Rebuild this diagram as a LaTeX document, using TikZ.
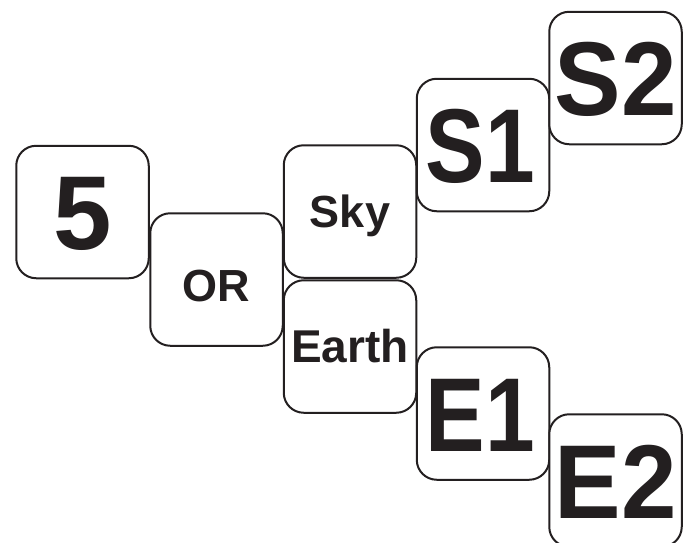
\documentclass[tikz,border=0pt]{standalone}
\usepackage{fontspec}
\setmainfont{Liberation Sans}
\newfontfamily\narrowA[FakeStretch=0.85]{Liberation Sans}
\newfontfamily\narrowB[FakeStretch=0.95]{Liberation Sans}
\definecolor{ink}{HTML}{231F20}
\tikzset{
  tile/.style={draw=ink, line width=2pt, fill=white, rounded corners=20pt,
    minimum width=132.5pt, minimum height=132.5pt, inner sep=0pt, text=ink},
  bigtxt/.style={font=\fontsize{105}{110}\selectfont\bfseries, text height=75.2pt, text depth=0pt},
  bigA/.style={font=\narrowA\fontsize{105}{110}\selectfont\bfseries, text height=75.2pt, text depth=0pt},
  bigB/.style={font=\narrowB\fontsize{105}{110}\selectfont\bfseries, text height=75.2pt, text depth=0pt},
  smalltxt/.style={font=\fontsize{45}{50}\selectfont\bfseries, text height=32.2pt, text depth=0pt}
}
\begin{document}
\begin{tikzpicture}[x=1pt,y=-1pt]
\useasboundingbox (0,0) rectangle (691,542);
\node[tile,bigtxt] (five) at (82.5,212) {5};
\node[tile,smalltxt,text height=44.2pt] (or) at (216.5,279.5) {OR};
\node[tile,smalltxt] (sky) at (350,211.5) {Sky};
\node[tile,smalltxt,font=\fontsize{46}{50}\selectfont\bfseries] (earth) at (350,346.5) {Earth};
\node[tile,bigA] (s1) at (483,145) {S1\kern5pt};
\node[tile,bigB] (s2) at (615.5,78) {S2};
\node[tile,bigA] (e1) at (483,413.5) {E1\kern5pt};
\node[tile,bigB] (e2) at (615.5,480.5) {E2};
\end{tikzpicture}
\end{document}
